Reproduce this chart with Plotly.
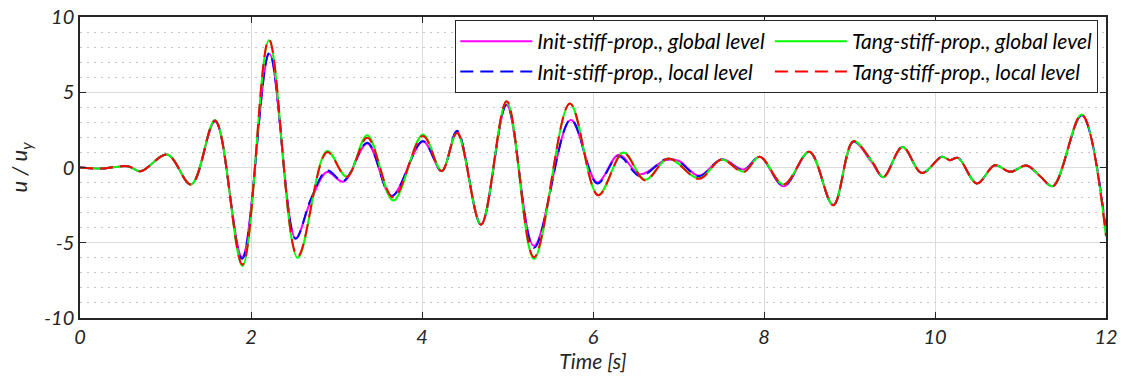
import plotly.graph_objects as go

# Tangent-stiffness-proportional damping (time [s], u/uy)
t_tang = [0.0, 0.25, 0.56, 0.71, 1.02, 1.30, 1.58, 1.90, 2.21, 2.546, 2.89, 3.12, 3.36,
          3.665, 4.01, 4.23, 4.41, 4.69, 4.99, 5.31, 5.73, 6.06, 6.355, 6.61, 6.88,
          7.24, 7.505, 7.76, 7.95, 8.23, 8.53, 8.81, 9.045, 9.26, 9.395, 9.62, 9.845,
          10.08, 10.175, 10.27, 10.49, 10.70, 10.88, 11.07, 11.23, 11.38, 11.715, 12.0]
u_tang_local = [0.0, -0.07, 0.08, -0.25, 0.86, -1.13, 3.12, -6.45, 8.5, -5.9, 1.02, -0.62, 1.97,
                -2.0, 2.1, -0.24, 2.3, -3.79, 4.41, -5.96, 4.25, -1.84, 0.97, -0.86, 0.6,
                -0.75, 0.53, -0.31, 0.71, -1.13, 1.04, -2.5, 1.75, 0.42, -0.64, 1.37, -0.36,
                0.71, 0.49, 0.64, -1.06, 0.15, -0.29, 0.13, -0.58, -1.24, 3.52, -4.56]
u_tang_global = [0.0, -0.07, 0.08, -0.25, 0.86, -1.13, 3.15, -6.55, 8.45, -6.0, 1.1, -0.62, 2.15,
                 -2.2, 2.2, -0.24, 2.3, -3.79, 4.38, -6.07, 4.25, -1.84, 1.0, -0.82, 0.6,
                 -0.72, 0.53, -0.28, 0.71, -1.13, 1.04, -2.5, 1.75, 0.42, -0.64, 1.37, -0.36,
                 0.71, 0.49, 0.64, -1.06, 0.15, -0.29, 0.13, -0.58, -1.24, 3.52, -4.56]

# Initial-stiffness-proportional damping (time [s], u/uy)
t_init = [0.0, 0.25, 0.56, 0.71, 1.02, 1.30, 1.58, 1.895, 2.215, 2.52, 2.70, 2.89, 3.08, 3.36,
          3.645, 4.01, 4.23, 4.41, 4.69, 4.99, 5.31, 5.74, 6.05, 6.30, 6.55, 6.85, 7.0,
          7.24, 7.505, 7.76, 7.95, 8.23, 8.53, 8.81, 9.045, 9.26, 9.395, 9.62, 9.845,
          10.08, 10.175, 10.27, 10.49, 10.70, 10.88, 11.07, 11.23, 11.38, 11.715, 12.0]
u_init_local = [0.0, -0.07, 0.08, -0.25, 0.86, -1.13, 3.1, -6.07, 7.62, -4.74, -2.1, -0.2, -0.9, 1.64,
                -1.9, 1.75, -0.24, 2.45, -3.79, 4.19, -5.34, 3.19, -1.06, 0.75, -0.58, 0.55, 0.4,
                -0.58, 0.53, -0.2, 0.71, -1.2, 1.04, -2.5, 1.72, 0.45, -0.64, 1.37, -0.36,
                0.71, 0.49, 0.64, -1.06, 0.15, -0.29, 0.13, -0.58, -1.24, 3.45, -4.24]
u_init_global = [0.0, -0.07, 0.08, -0.25, 0.86, -1.13, 3.05, -5.95, 7.55, -4.7, -2.2, -0.3, -0.95, 1.6,
                 -1.9, 1.75, -0.24, 2.4, -3.79, 4.15, -5.2, 3.15, -1.0, 0.85, -0.45, 0.5, 0.45,
                 -0.55, 0.55, -0.13, 0.71, -1.25, 1.04, -2.5, 1.7, 0.35, -0.64, 1.37, -0.36,
                 0.71, 0.49, 0.64, -1.06, 0.15, -0.29, 0.13, -0.58, -1.24, 3.45, -4.3]

x_ticks = [0, 2, 4, 6, 8, 10, 12]
y_ticks = [-10, -5, 0, 5, 10]
y_ticktext = ["-10", "-5", "0", "5", "10"]

names = ["Init-stiff-prop., global level", "Init-stiff-prop., local level",
         "Tang-stiff-prop., global level", "Tang-stiff-prop., local level"]

FONT = "Lato"
TXT = "#262626"

fig = go.Figure()
series = [
    (t_init, u_init_global, names[0], "#ff00ff", "solid", "init"),
    (t_init, u_init_local, names[1], "#0000ff", "13px,7px", "init"),
    (t_tang, u_tang_global, names[2], "#00ff00", "solid", "tang"),
    (t_tang, u_tang_local, names[3], "#ff0000", "13px,7px", "tang"),
]
for t, u, name, color, dash, grp in series:
    fig.add_trace(go.Scatter(
        x=t, y=u, name=name, mode="lines", legendgroup=grp,
        line=dict(color=color, width=2, dash=dash, shape="spline", smoothing=1.0),
    ))

fig.update_layout(
    width=1121, height=377,
    margin=dict(l=80, r=15, t=17, b=59),
    paper_bgcolor="white", plot_bgcolor="white",
    font=dict(family=FONT, color=TXT),
    showlegend=True,
    legend=dict(
        orientation="h", traceorder="grouped", tracegroupgap=4, itemwidth=72,
        x=0.9925, xanchor="right", y=0.99, yanchor="top",
        bgcolor="white", bordercolor=TXT, borderwidth=1,
        font=dict(family=FONT, size=21, color="#000000", style="italic"),
    ),
)
fig.update_xaxes(
    range=[0, 12], tickvals=x_ticks, ticktext=[str(v) for v in x_ticks],
    ticks="inside", ticklen=6, tickcolor=TXT, tickwidth=1,
    showline=True, linecolor=TXT, linewidth=1.5, mirror="allticks",
    showgrid=True, gridcolor="#dcdcdc", gridwidth=1, zeroline=False, automargin=False,
    tickfont=dict(family=FONT, size=20, color=TXT, style="italic"),
    title=dict(text="Time [s]", font=dict(family=FONT, size=21, color=TXT, style="italic"),
               standoff=6),
)
fig.update_yaxes(
    range=[-10, 10], tickvals=y_ticks, ticktext=y_ticktext,
    ticks="inside", ticklen=6, tickcolor=TXT, tickwidth=1,
    showline=True, linecolor=TXT, linewidth=1.5, mirror="allticks",
    showgrid=True, gridcolor="#dcdcdc", gridwidth=1, zeroline=False, automargin=False,
    minor=dict(dtick=1, tick0=0, showgrid=True, gridcolor="#c4c4c4", griddash="2px,5px",
               gridwidth=1, ticks=""),
    tickfont=dict(family=FONT, size=20, color=TXT, style="italic"),
    title=dict(text="u / u<sub>y</sub>", font=dict(family=FONT, size=22, color=TXT, style="italic"),
               standoff=10),
)

fig.write_html("out.html")
